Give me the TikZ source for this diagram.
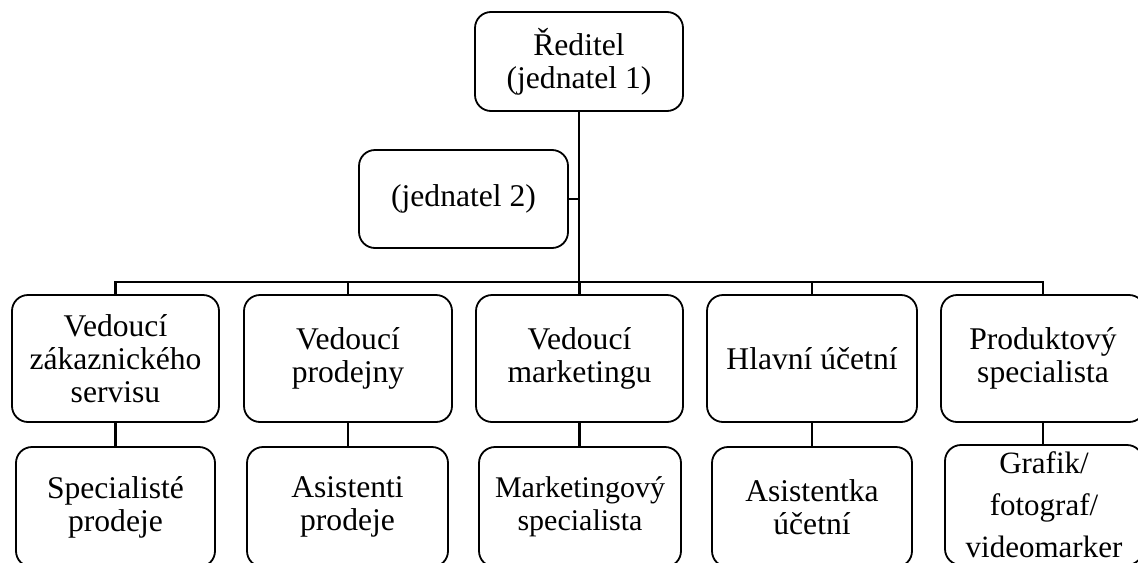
\documentclass[tikz,border=0pt]{standalone}
\usepackage{fontspec}
\setmainfont{Liberation Serif}
\begin{document}
\begin{tikzpicture}[x=0.5pt,y=-0.5pt,
  box/.style={draw, line width=0.9pt, rounded corners=8pt, align=center, inner sep=2pt,
    font=\fontsize{15.8pt}{16.5pt}\selectfont},
  conn/.style={line width=1.2pt}]
\useasboundingbox (0,0) rectangle (1138,562);
\clip (0,0) rectangle (1138,562);
% top
\node[box, minimum width=104pt, minimum height=49.5pt] (top) at (579,61.5) {Ředitel\\(jednatel 1)};
\node[box, minimum width=104.5pt, minimum height=49pt] (j2) at (463.5,199) {(jednatel 2)};
% level 2
\foreach \n/\x/\w/\t in {b1/115.5/103.5/{Vedoucí\\zákaznického\\servisu},
  b2/348/104/{Vedoucí\\prodejny},
  b3/579.5/103.5/{Vedoucí\\marketingu},
  b4/812/105/{Hlavní účetní},
  b5/1043/102/{Produktový\\specialista}}
  \node[box, minimum width=\w pt, minimum height=63.5pt] (\n) at (\x,358.5) {\t};
% level 3
\foreach \n/\x/\w/\t in {c1/115.5/99.5/{Specialisté\\prodeje},
  c2/347.5/100.5/{Asistenti\\prodeje},
  c4/812/100/{Asistentka\\účetní}}
  \node[box, minimum width=\w pt, minimum height=60pt] (\n) at (\x,507) {\t};
\node[box, minimum width=101pt, minimum height=60pt,
  font=\fontsize{15pt}{16.5pt}\selectfont] (c3) at (580,507) {Marketingový\\specialista};
\node[box, minimum width=99pt, minimum height=60pt,
  font=\fontsize{15.5pt}{21pt}\selectfont] (c5) at (1044,505) {Grafik/\\fotograf/\\videomarker};
% connectors
\coordinate (bus) at (579,282);
\draw[conn] (top.south) -- (bus);
\draw[conn] (j2.east) -- (j2.east -| top.south);
\draw[conn] (b1.north) -- (b1.north |- bus) -- (b5.north |- bus) -- (b5.north);
\foreach \n in {b2,b3,b4} \draw[conn] (\n.north) -- (\n.north |- bus);
\draw[conn] (b1.south) -- (c1.north);
\draw[conn] (b2.south) -- (b2.south |- c2.north);
\draw[conn] (b3.south) -- (b3.south |- c3.north);
\draw[conn] (b4.south) -- (c4.north);
\draw[conn] (b5.south) -- (b5.south |- c5.north);
\end{tikzpicture}
\end{document}
